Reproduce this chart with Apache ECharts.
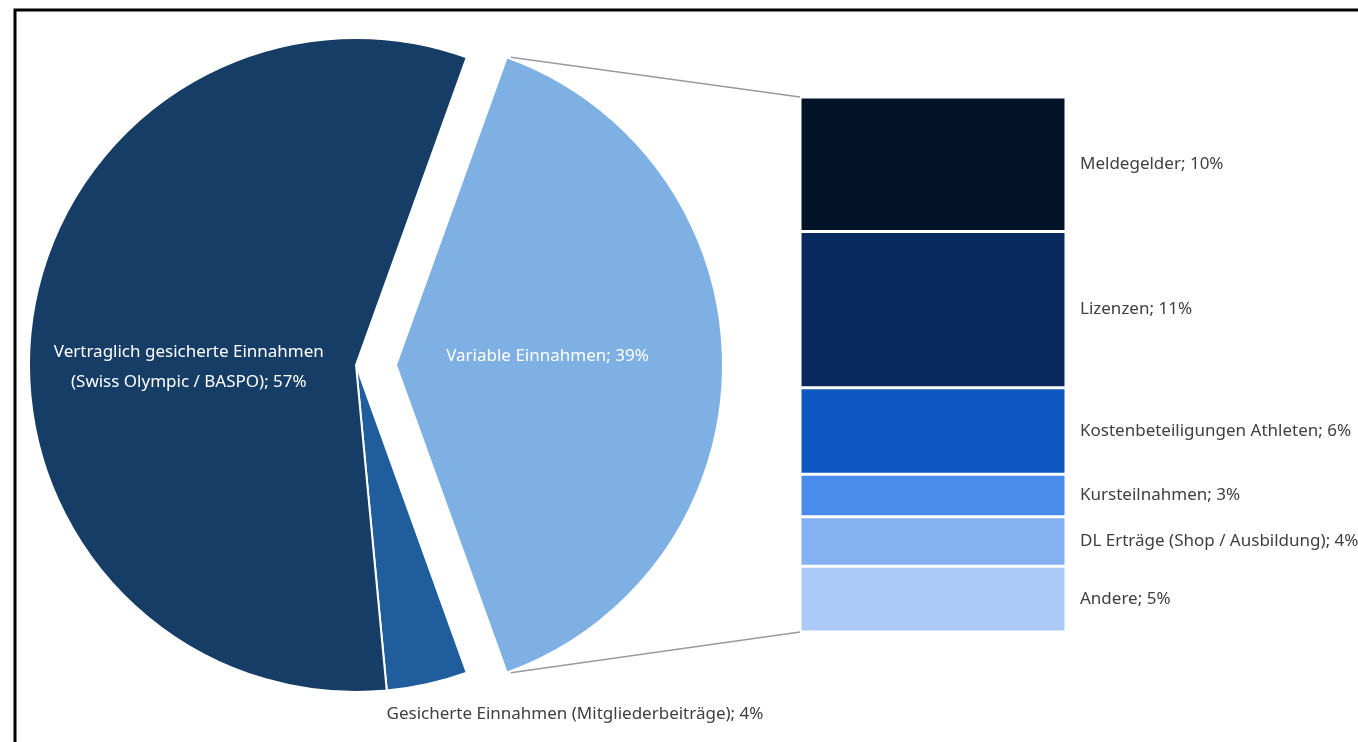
<!DOCTYPE html>
<html>
<head>
<meta charset="utf-8">
<script src="https://cdn.jsdelivr.net/npm/echarts@6/dist/echarts.min.js"></script>
<style>
  html, body { margin: 0; padding: 0; background: #fff; }
  #chart { width: 1358px; height: 742px; }
</style>
</head>
<body>
<div id="chart"></div>
<script>
  // Kreis: Einnahmen gesamt
  var pieNames = ['Variable Einnahmen', 'Gesicherte Einnahmen (Mitgliederbeiträge)', 'Vertraglich gesicherte Einnahmen\n(Swiss Olympic / BASPO)'];
  var pieValues = [39, 4, 57];
  var pieColors = ['#7fb0e4', '#1f5d9d', '#163d66'];

  // Balken: Aufteilung variable Einnahmen
  var barNames = ['Meldegelder', 'Lizenzen', 'Kostenbeteiligungen Athleten', 'Kursteilnahmen', 'DL Erträge (Shop / Ausbildung)', 'Andere'];
  var barValues = [9.8, 11.4, 6.3, 3.1, 3.6, 4.8];
  var barColors = ['#021328', '#0a2a5f', '#0f57c1', '#4a8cec', '#84b1f1', '#abcaf7'];

  var pieCx = 356, pieCy = 365, pieR = 327, pieOffset = 40;
  var gridLeft = 800, gridTop = 97, gridW = 266, gridH = 535;
  var font = '"Noto Sans", "Open Sans", sans-serif';

  var pieTotal = pieValues.reduce(function (a, b) { return a + b; }, 0);
  var barTotal = barValues.reduce(function (a, b) { return a + b; }, 0);
  var halfAngle = pieValues[0] / pieTotal * 180;

  var chart = echarts.init(document.getElementById('chart'));

  var pieData = pieNames.map(function (n, i) {
    var d = { name: n, value: pieValues[i], itemStyle: { color: pieColors[i] } };
    if (i === 0) { d.selected = true; }
    if (i === 1) {
      d.label = { position: 'outside', color: '#404040' };
    }
    return d;
  });

  var barSeries = barNames.map(function (n, i) {
    return {
      type: 'bar',
      stack: 'variabel',
      barWidth: '100%',
      data: [barValues[i]],
      itemStyle: { color: barColors[i], borderColor: '#fff', borderWidth: 1.5 },
      label: {
        show: true, position: 'right', distance: 14,
        color: '#404040', fontSize: 17, fontFamily: font,
        formatter: n + '; ' + Math.round(barValues[i]) + '%'
      },
      emphasis: { disabled: true }
    };
  });

  // Verbindungslinien von der Kreisscheibe zum Balken (Balken oben = 0, unten = Summe)
  var a = halfAngle * Math.PI / 180;
  var sx = pieCx + pieOffset + pieR * Math.cos(a) + 4;
  var syTop = pieCy - pieR * Math.sin(a);
  var syBot = pieCy + pieR * Math.sin(a);

  var option = {
    animation: false,
    backgroundColor: '#fff',
    grid: { left: gridLeft, top: gridTop, width: gridW, height: gridH },
    xAxis: { type: 'category', data: [''], show: false },
    yAxis: { type: 'value', min: 0, max: barTotal, inverse: true, show: false },
    graphic: [
      { type: 'rect', z: 100, shape: { x: 15, y: 10, width: 1400, height: 800 },
        style: { fill: 'none', stroke: '#000', lineWidth: 3 } },
      { type: 'line', shape: { x1: sx, y1: syTop, x2: gridLeft, y2: gridTop },
        style: { stroke: '#9a9a9a', lineWidth: 1.5 } },
      { type: 'line', shape: { x1: sx, y1: syBot, x2: gridLeft, y2: gridTop + gridH },
        style: { stroke: '#9a9a9a', lineWidth: 1.5 } }
    ],
    series: [{
      type: 'pie',
      center: [pieCx, pieCy],
      radius: pieR,
      startAngle: halfAngle,
      clockwise: true,
      selectedMode: 'single',
      selectedOffset: pieOffset,
      avoidLabelOverlap: false,
      itemStyle: { borderColor: '#fff', borderWidth: 2 },
      label: {
        position: 'inside', color: '#fff', fontSize: 17, lineHeight: 30,
        fontFamily: font, formatter: '{b}; {c}%'
      },
      labelLine: { show: false },
      labelLayout: function (p) {
        if (p.dataIndex === 1) {
          return { x: 575, y: 714, align: 'center', verticalAlign: 'middle' };
        }
        if (p.dataIndex === 2) { return { dx: -2, dy: 23 }; }
        if (p.dataIndex === 0) { return { dx: -15, dy: -9 }; }
      },
      emphasis: { disabled: true },
      data: pieData
    }].concat(barSeries)
  };

  chart.setOption(option);
</script>
</body>
</html>
